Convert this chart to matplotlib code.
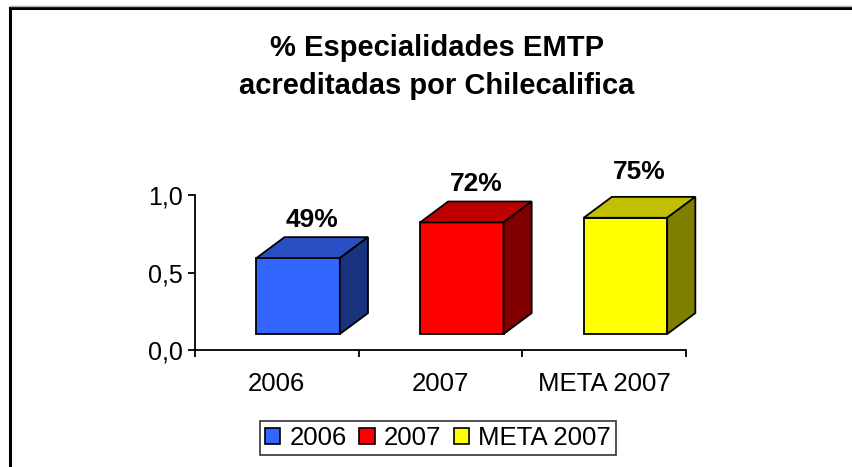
import numpy as np
import matplotlib
matplotlib.use("Agg")
import matplotlib.pyplot as plt
from matplotlib.patches import Polygon, Patch
from matplotlib.lines import Line2D

plt.rcParams['font.family'] = ['Liberation Sans', 'DejaVu Sans']

# data
categories = ["2006", "2007", "META 2007"]
values = [0.49, 0.72, 0.75]
value_labels = ["49%", "72%", "75%"]
front_colors = ["#3366FF", "#FF0000", "#FFFF00"]
top_colors = ["#2850C4", "#BF0000", "#C0C000"]
side_colors = ["#1A337F", "#800000", "#808000"]
y_ticks = [0.0, 0.5, 1.0]
y_tick_labels = ["0,0", "0,5", "1,0"]

fig = plt.figure(figsize=(8.52, 4.67), dpi=100)
W, H = 852, 467
ax = fig.add_axes([195 / W, (H - 350) / H, (686 - 195) / W, 155 / H])
ax.set_xlim(-0.5, 2.5)
ax.set_ylim(0, 1)

# 3d-ish box geometry (data units)
base = 0.103
width = 0.51
shift = 0.13
dx = 0.172
dy = 0.135
label_pad = [0.035, 0.035, 0.08]   # excel puts the last label a bit higher

for i, v in enumerate(values):
    x0 = i + shift - width / 2
    x1 = x0 + width
    y0 = base
    y1 = base + v
    front = Polygon([(x0, y0), (x1, y0), (x1, y1), (x0, y1)], closed=True,
                    facecolor=front_colors[i], edgecolor="black", lw=1.3, clip_on=False, zorder=3)
    top = Polygon([(x0, y1), (x1, y1), (x1 + dx, y1 + dy), (x0 + dx, y1 + dy)], closed=True,
                  facecolor=top_colors[i], edgecolor="black", lw=1.3, clip_on=False, zorder=3)
    side = Polygon([(x1, y0), (x1 + dx, y0 + dy), (x1 + dx, y1 + dy), (x1, y1)], closed=True,
                   facecolor=side_colors[i], edgecolor="black", lw=1.3, clip_on=False, zorder=3)
    for p in (front, top, side):
        ax.add_patch(p)
    ax.text((x0 + x1 + dx) / 2, y1 + dy + label_pad[i], value_labels[i], ha="center", va="bottom",
            fontsize=19, fontweight="bold", clip_on=False)

# axes styling
for s in ["top", "right"]:
    ax.spines[s].set_visible(False)
ax.spines["left"].set_linewidth(1.3)
ax.spines["bottom"].set_linewidth(1.3)
ax.set_yticks(y_ticks)
ax.set_yticklabels(y_tick_labels, fontsize=18)
ax.set_xticks([-0.5, 0.5, 1.5, 2.5])
ax.set_xticklabels([])
ax.set_xticks(range(len(categories)), minor=True)
ax.set_xticklabels(categories, minor=True, fontsize=18.5)
ax.tick_params(axis="both", which="major", direction="out", length=5, width=1.3)
ax.tick_params(axis="x", which="minor", length=0, pad=16)
ax.tick_params(axis="y", pad=4)

# title
fig.text(437 / W, 1 - 67 / H, "% Especialidades EMTP\nacreditadas por Chilecalifica",
         ha="center", va="center", fontsize=21, fontweight="bold", linespacing=1.45)

# legend
handles = [Patch(facecolor=c, edgecolor="black", lw=1.2) for c in front_colors]
leg = fig.legend(handles, categories, loc="center", bbox_to_anchor=(438 / W, 1 - 438 / H),
                 ncol=3, fontsize=18.5, frameon=True, fancybox=False, handlelength=0.6,
                 handleheight=0.6, handletextpad=0.35, columnspacing=0.5, borderpad=0.2,
                 borderaxespad=0)
leg.get_frame().set_edgecolor("black")
leg.get_frame().set_linewidth(1.2)

# outer frame
fig.add_artist(Line2D([10 / W, 10 / W], [0, 1 - 8 / H], color="black", lw=2.2))
fig.add_artist(Line2D([10 / W, 1], [1 - 8 / H, 1 - 8 / H], color="black", lw=2.2))
fig.add_artist(Line2D([10 / W, 1], [1 - 5.5 / H, 1 - 5.5 / H], color="#b0b0b0", lw=1))

fig.savefig("out.png", dpi=100)
